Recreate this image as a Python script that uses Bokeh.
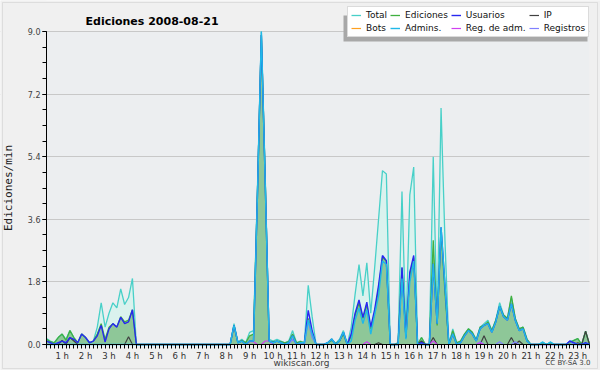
from bokeh.plotting import figure
from bokeh.models import (Range1d, FixedTicker, NumeralTickFormatter, Legend, LegendItem,
                          Label, BoxAnnotation)
from bokeh.embed import file_html
from bokeh.resources import INLINE

# ---- data: edits per minute, 10-minute samples starting at 00:20 ----
start_minute = 20
step_minutes = 10

total = [
    0.17, 0.10, 0.05, 0.20, 0.30, 0.15,
    0.40, 0.20, 0.05, 0.30, 0.20, 0.05,
    0.10, 0.50, 1.20, 0.50, 0.90, 1.20,
    1.05, 1.60, 1.15, 1.35, 1.90, 0.00,
    0.00, 0.00, 0.00, 0.00, 0.00, 0.00,
    0.00, 0.00, 0.00, 0.00, 0.00, 0.00,
    0.00, 0.00, 0.00, 0.00, 0.00, 0.00,
    0.00, 0.00, 0.00, 0.00, 0.00, 0.00,
    0.60, 0.07, 0.15, 0.05, 0.35, 0.40,
    4.50, 9.00, 4.80, 0.15, 0.10, 0.15,
    0.10, 0.05, 0.10, 0.40, 0.05, 0.10,
    0.05, 1.70, 0.80, 0.00, 0.00, 0.00,
    0.05, 0.17, 0.03, 0.15, 0.40, 0.00,
    0.50, 1.45, 2.30, 1.40, 2.35, 0.90,
    2.20, 3.60, 5.00, 4.90, 0.00, 0.00,
    0.05, 4.40, 0.30, 4.30, 5.10, 0.00,
    0.20, 0.00, 0.00, 5.40, 0.60, 6.80,
    3.00, 0.00, 0.45, 0.05, 0.10, 0.30,
    0.45, 0.35, 0.15, 0.50, 0.60, 0.70,
    0.40, 0.70, 1.20, 0.85, 0.75, 1.35,
    0.75, 0.45, 0.50, 0.15, 0.00, 0.00,
    0.00, 0.07, 0.00, 0.07, 0.00, 0.00,
    0.00, 0.00, 0.10, 0.12, 0.17, 0.00,
    0.38, 0.00,
]

ediciones = [
    0.15, 0.08, 0.05, 0.20, 0.30, 0.12,
    0.40, 0.20, 0.05, 0.30, 0.20, 0.05,
    0.10, 0.30, 0.60, 0.15, 0.50, 0.60,
    0.50, 0.80, 0.65, 0.70, 1.00, 0.00,
    0.00, 0.00, 0.00, 0.00, 0.00, 0.00,
    0.00, 0.00, 0.00, 0.00, 0.00, 0.00,
    0.00, 0.00, 0.00, 0.00, 0.00, 0.00,
    0.00, 0.00, 0.00, 0.00, 0.00, 0.00,
    0.55, 0.05, 0.12, 0.05, 0.25, 0.30,
    4.40, 8.90, 4.70, 0.10, 0.08, 0.10,
    0.08, 0.05, 0.08, 0.30, 0.05, 0.08,
    0.05, 0.75, 0.35, 0.00, 0.00, 0.00,
    0.05, 0.12, 0.03, 0.10, 0.30, 0.00,
    0.25, 0.85, 1.20, 0.75, 1.15, 0.45,
    0.90, 1.60, 2.50, 2.40, 0.00, 0.00,
    0.05, 2.20, 0.20, 2.00, 2.50, 0.00,
    0.20, 0.00, 0.00, 3.00, 0.55, 3.30,
    1.50, 0.00, 0.40, 0.05, 0.10, 0.30,
    0.45, 0.35, 0.12, 0.50, 0.55, 0.65,
    0.40, 0.70, 1.10, 0.85, 0.75, 1.40,
    0.75, 0.45, 0.50, 0.15, 0.00, 0.00,
    0.00, 0.05, 0.00, 0.05, 0.00, 0.00,
    0.00, 0.00, 0.05, 0.12, 0.17, 0.00,
    0.38, 0.00,
]

usuarios = [
    0.10, 0.05, 0.00, 0.05, 0.10, 0.05,
    0.20, 0.15, 0.05, 0.30, 0.20, 0.05,
    0.10, 0.25, 0.55, 0.07, 0.45, 0.60,
    0.50, 0.78, 0.60, 0.65, 1.00, 0.00,
    0.00, 0.00, 0.00, 0.00, 0.00, 0.00,
    0.00, 0.00, 0.00, 0.00, 0.00, 0.00,
    0.00, 0.00, 0.00, 0.00, 0.00, 0.00,
    0.00, 0.00, 0.00, 0.00, 0.00, 0.00,
    0.55, 0.05, 0.10, 0.00, 0.10, 0.10,
    4.30, 8.90, 4.60, 0.10, 0.05, 0.10,
    0.05, 0.00, 0.05, 0.25, 0.00, 0.05,
    0.05, 0.98, 0.40, 0.00, 0.00, 0.00,
    0.05, 0.15, 0.00, 0.10, 0.35, 0.00,
    0.30, 0.90, 1.28, 0.78, 1.22, 0.50,
    1.00, 1.70, 2.56, 2.41, 0.00, 0.00,
    0.00, 2.22, 0.20, 2.08, 2.56, 0.00,
    0.05, 0.00, 0.00, 2.32, 0.60, 3.37,
    1.70, 0.00, 0.30, 0.00, 0.05, 0.25,
    0.40, 0.30, 0.10, 0.45, 0.55, 0.60,
    0.35, 0.65, 1.10, 0.80, 0.70, 1.17,
    0.70, 0.40, 0.45, 0.10, 0.00, 0.00,
    0.00, 0.00, 0.00, 0.00, 0.00, 0.00,
    0.00, 0.00, 0.10, 0.05, 0.00, 0.00,
    0.05, 0.00,
]

ip = [
    0.00, 0.00, 0.00, 0.00, 0.12, 0.00,
    0.20, 0.10, 0.00, 0.00, 0.00, 0.00,
    0.00, 0.00, 0.00, 0.00, 0.00, 0.00,
    0.00, 0.00, 0.00, 0.22, 0.00, 0.00,
    0.00, 0.00, 0.00, 0.00, 0.00, 0.00,
    0.00, 0.00, 0.00, 0.00, 0.00, 0.00,
    0.00, 0.00, 0.00, 0.00, 0.00, 0.00,
    0.00, 0.00, 0.00, 0.00, 0.00, 0.00,
    0.00, 0.00, 0.00, 0.00, 0.00, 0.00,
    0.00, 0.00, 0.00, 0.00, 0.00, 0.00,
    0.00, 0.00, 0.00, 0.00, 0.00, 0.00,
    0.00, 0.00, 0.00, 0.00, 0.00, 0.00,
    0.00, 0.00, 0.00, 0.00, 0.00, 0.00,
    0.00, 0.00, 0.00, 0.00, 0.00, 0.00,
    0.00, 0.05, 0.00, 0.00, 0.00, 0.00,
    0.00, 0.00, 0.00, 0.00, 0.00, 0.00,
    0.10, 0.00, 0.00, 0.20, 0.00, 0.00,
    0.00, 0.00, 0.00, 0.00, 0.00, 0.00,
    0.00, 0.00, 0.00, 0.00, 0.25, 0.00,
    0.00, 0.00, 0.00, 0.00, 0.00, 0.20,
    0.00, 0.10, 0.00, 0.00, 0.00, 0.00,
    0.00, 0.00, 0.00, 0.00, 0.00, 0.00,
    0.00, 0.00, 0.00, 0.00, 0.05, 0.00,
    0.38, 0.00,
]

bots = [
    0.00, 0.00, 0.00, 0.00, 0.00, 0.00,
    0.00, 0.00, 0.00, 0.00, 0.00, 0.00,
    0.00, 0.00, 0.00, 0.00, 0.00, 0.00,
    0.00, 0.00, 0.00, 0.00, 0.00, 0.00,
    0.00, 0.00, 0.00, 0.00, 0.00, 0.00,
    0.00, 0.00, 0.00, 0.00, 0.00, 0.00,
    0.00, 0.00, 0.00, 0.00, 0.00, 0.00,
    0.00, 0.00, 0.00, 0.00, 0.00, 0.00,
    0.00, 0.00, 0.00, 0.00, 0.00, 0.00,
    0.00, 0.00, 0.00, 0.00, 0.00, 0.00,
    0.00, 0.00, 0.00, 0.00, 0.00, 0.00,
    0.00, 0.00, 0.00, 0.00, 0.00, 0.00,
    0.00, 0.00, 0.00, 0.00, 0.00, 0.00,
    0.00, 0.00, 0.00, 0.00, 0.00, 0.00,
    0.00, 0.00, 0.00, 0.00, 0.00, 0.00,
    0.00, 0.00, 0.00, 0.00, 0.00, 0.00,
    0.00, 0.00, 0.00, 0.00, 0.00, 0.00,
    0.00, 0.00, 0.00, 0.00, 0.00, 0.00,
    0.00, 0.00, 0.00, 0.00, 0.00, 0.00,
    0.00, 0.00, 0.00, 0.00, 0.00, 0.00,
    0.00, 0.00, 0.00, 0.00, 0.00, 0.00,
    0.00, 0.00, 0.00, 0.00, 0.00, 0.00,
    0.00, 0.00, 0.00, 0.00, 0.00, 0.00,
    0.00, 0.00,
]

admins = [
    0.00, 0.00, 0.00, 0.00, 0.00, 0.00,
    0.00, 0.00, 0.00, 0.00, 0.00, 0.00,
    0.00, 0.00, 0.00, 0.00, 0.00, 0.00,
    0.00, 0.00, 0.00, 0.00, 0.00, 0.00,
    0.00, 0.00, 0.00, 0.00, 0.00, 0.00,
    0.00, 0.00, 0.00, 0.00, 0.00, 0.00,
    0.00, 0.00, 0.00, 0.00, 0.00, 0.00,
    0.00, 0.00, 0.00, 0.00, 0.00, 0.00,
    0.55, 0.05, 0.10, 0.00, 0.10, 0.10,
    4.30, 9.00, 4.60, 0.10, 0.05, 0.10,
    0.05, 0.00, 0.05, 0.25, 0.00, 0.05,
    0.05, 0.70, 0.30, 0.00, 0.00, 0.00,
    0.05, 0.15, 0.00, 0.10, 0.35, 0.00,
    0.10, 0.70, 1.05, 0.60, 1.00, 0.30,
    0.85, 1.40, 2.40, 2.30, 0.00, 0.00,
    0.00, 1.90, 0.15, 1.80, 2.40, 0.00,
    0.00, 0.00, 0.00, 2.32, 0.60, 3.37,
    1.70, 0.00, 0.30, 0.00, 0.05, 0.25,
    0.40, 0.30, 0.10, 0.45, 0.55, 0.60,
    0.35, 0.65, 1.10, 0.80, 0.70, 1.17,
    0.70, 0.40, 0.45, 0.10, 0.00, 0.00,
    0.00, 0.07, 0.00, 0.07, 0.00, 0.00,
    0.00, 0.00, 0.00, 0.00, 0.00, 0.00,
    0.00, 0.00,
]

reg_adm = [
    0.00, 0.00, 0.00, 0.00, 0.00, 0.00,
    0.00, 0.00, 0.00, 0.00, 0.00, 0.00,
    0.00, 0.00, 0.00, 0.00, 0.00, 0.00,
    0.00, 0.00, 0.00, 0.00, 0.00, 0.00,
    0.00, 0.00, 0.00, 0.00, 0.00, 0.00,
    0.00, 0.00, 0.00, 0.00, 0.00, 0.00,
    0.00, 0.00, 0.00, 0.00, 0.00, 0.00,
    0.00, 0.00, 0.00, 0.00, 0.00, 0.00,
    0.00, 0.00, 0.00, 0.00, 0.08, 0.08,
    0.00, 0.00, 0.10, 0.10, 0.00, 0.00,
    0.00, 0.00, 0.00, 0.00, 0.00, 0.00,
    0.00, 0.00, 0.00, 0.00, 0.00, 0.00,
    0.00, 0.00, 0.00, 0.00, 0.00, 0.00,
    0.00, 0.00, 0.00, 0.00, 0.08, 0.00,
    0.00, 0.00, 0.00, 0.00, 0.00, 0.00,
    0.00, 0.00, 0.00, 0.00, 0.00, 0.00,
    0.00, 0.00, 0.00, 0.10, 0.00, 0.00,
    0.00, 0.00, 0.00, 0.00, 0.00, 0.00,
    0.00, 0.00, 0.00, 0.05, 0.00, 0.00,
    0.00, 0.00, 0.00, 0.00, 0.00, 0.00,
    0.00, 0.00, 0.00, 0.00, 0.00, 0.00,
    0.00, 0.00, 0.00, 0.00, 0.00, 0.00,
    0.00, 0.00, 0.00, 0.00, 0.00, 0.00,
    0.00, 0.00,
]

registros = [
    0.00, 0.00, 0.00, 0.00, 0.00, 0.00,
    0.00, 0.00, 0.00, 0.00, 0.00, 0.00,
    0.00, 0.00, 0.00, 0.00, 0.00, 0.00,
    0.00, 0.00, 0.00, 0.00, 0.00, 0.00,
    0.00, 0.00, 0.00, 0.00, 0.00, 0.00,
    0.00, 0.00, 0.00, 0.00, 0.00, 0.00,
    0.00, 0.00, 0.00, 0.00, 0.00, 0.00,
    0.00, 0.00, 0.00, 0.00, 0.00, 0.00,
    0.00, 0.00, 0.00, 0.00, 0.00, 0.00,
    0.00, 0.00, 0.00, 0.00, 0.00, 0.00,
    0.00, 0.00, 0.00, 0.15, 0.00, 0.00,
    0.00, 0.65, 0.20, 0.00, 0.00, 0.00,
    0.00, 0.00, 0.00, 0.00, 0.00, 0.00,
    0.00, 0.00, 0.00, 0.00, 0.00, 0.00,
    0.00, 0.00, 0.00, 0.00, 0.00, 0.00,
    0.00, 0.00, 0.00, 0.00, 0.00, 0.00,
    0.00, 0.00, 0.00, 0.00, 0.00, 0.00,
    0.00, 0.00, 0.00, 0.00, 0.00, 0.00,
    0.00, 0.00, 0.00, 0.08, 0.00, 0.00,
    0.00, 0.00, 0.08, 0.00, 0.00, 0.00,
    0.08, 0.00, 0.00, 0.00, 0.00, 0.00,
    0.00, 0.00, 0.00, 0.00, 0.00, 0.00,
    0.00, 0.00, 0.10, 0.00, 0.00, 0.00,
    0.00, 0.00,
]

hour_labels = [f"{h} h" for h in range(1, 24)]
y_ticks = [0.0, 1.8, 3.6, 5.4, 7.2, 9.0]
y_max = 9.0

# x in hours
hours = [(start_minute + step_minutes * i) / 60 for i in range(len(total))]
x0, x1 = hours[0], hours[-1]

# ---- layout (pixels): plot area inside a full-canvas frame ----
W, H = 600, 370
PL, PR, PT, PB = 46, 589, 31, 344          # plot area edges in canvas pixels
kx = (PR - PL) / (x1 - x0)
ky = (PB - PT) / y_max
x_range = Range1d(x0 - PL / kx, x1 + (W - PR) / kx)
y_range = Range1d(-(H - PB) / ky, y_max + PT / ky)

def sy(canvas_y):
    """canvas y (from top) -> screen units used by annotations (from bottom)"""
    return H - canvas_y

p = figure(width=W, height=H, output_backend="svg", toolbar_location=None,
           title=None, x_range=x_range, y_range=y_range,
           min_border=0, min_border_left=0, min_border_right=0,
           min_border_top=0, min_border_bottom=0,
           background_fill_color="#F0F0F0", border_fill_color="#F0F0F0",
           outline_line_color=None)

# plot-area background
p.add_layout(BoxAnnotation(left=x0, right=x1, bottom=0, top=y_max,
                           fill_color="#ECEEF0", fill_alpha=1, line_color=None, level="image"))

# grid (only inside plot area)
p.xgrid.visible = False
p.ygrid.grid_line_color = "#C8C8C8"
p.ygrid.grid_line_width = 1
p.add_layout(BoxAnnotation(right=x0, fill_color="#F0F0F0", fill_alpha=1,
                           line_color=None, level="underlay"))
p.add_layout(BoxAnnotation(left=x1, fill_color="#F0F0F0", fill_alpha=1,
                           line_color=None, level="underlay"))

# outer border
p.add_layout(BoxAnnotation(left=2, right=597, top=sy(2), bottom=sy(368),
                           left_units="screen", right_units="screen",
                           top_units="screen", bottom_units="screen",
                           fill_alpha=0, line_color="#B4B4B4", line_width=1, level="underlay"))

# fills
p.varea(x=hours, y1=0, y2=total, fill_color="#DAF2EE", fill_alpha=1)
p.varea(x=hours, y1=0, y2=ediciones, fill_color="#8EC798", fill_alpha=1)

r_total = p.line(hours, total, line_color="#48D0C8", line_width=1.3)
r_ed = p.line(hours, ediciones, line_color="#40B040", line_width=1.3)
r_ip = p.line(hours, ip, line_color="#404040", line_width=1.2)
r_bots = p.line(hours, bots, line_color="#FFA020", line_width=1.2)
r_regs = p.line(hours, registros, line_color="#8080FF", line_width=1.2)
r_radm = p.line(hours, reg_adm, line_color="#D040F0", line_width=1.2)
r_us = p.line(hours, usuarios, line_color="#2828F0", line_width=1.4)
r_adm = p.line(hours, admins, line_color="#20B8E8", line_width=1.4)

# axes, fixed inside the frame at the plot-area edges
xa = p.xaxis[0]
xa.fixed_location = 0
xa.bounds = (x0, x1)
xa.ticker = FixedTicker(ticks=list(range(1, 24)), minor_ticks=hours)
xa.major_label_overrides = {h: lab for h, lab in zip(range(1, 24), hour_labels)}
xa.major_tick_out = 0
xa.major_tick_in = 0
xa.minor_tick_out = 4
xa.minor_tick_in = 0
xa.major_label_standoff = 2
xa.major_label_text_font = "DejaVu Sans"
xa.major_label_text_font_size = "8.5px"
xa.major_label_text_color = "#303030"
xa.axis_line_color = "black"
xa.minor_tick_line_color = "black"

ya = p.yaxis[0]
ya.fixed_location = x0
ya.bounds = (0, y_max)
ya.ticker = FixedTicker(ticks=y_ticks, minor_ticks=[0.45 * k for k in range(0, 21)])
ya.formatter = NumeralTickFormatter(format="0.0")
ya.major_tick_out = 4
ya.major_tick_in = 0
ya.minor_tick_out = 4
ya.minor_tick_in = 0
ya.major_label_standoff = 2
ya.major_label_text_font = "DejaVu Sans"
ya.major_label_text_font_size = "8px"
ya.major_label_text_color = "#404040"
ya.axis_label = "Ediciones/min"
ya.axis_label_text_font = "DejaVu Sans Mono"
ya.axis_label_text_font_size = "11px"
ya.axis_label_text_font_style = "normal"
ya.axis_label_text_color = "#202020"
ya.axis_label_standoff = 10
ya.axis_line_color = "black"

# legend shadow + legend
p.add_layout(BoxAnnotation(left=343, right=587, top=sy(15), bottom=sy(41),
                           left_units="screen", right_units="screen",
                           top_units="screen", bottom_units="screen",
                           fill_color="#A8A8A8", fill_alpha=1, line_color=None))

legend = Legend(items=[
    LegendItem(label="Total", renderers=[r_total]),
    LegendItem(label="Ediciones", renderers=[r_ed]),
    LegendItem(label="Usuarios", renderers=[r_us]),
    LegendItem(label="IP", renderers=[r_ip]),
    LegendItem(label="Bots", renderers=[r_bots]),
    LegendItem(label="Admins.", renderers=[r_adm]),
    LegendItem(label="Reg. de adm.", renderers=[r_radm]),
    LegendItem(label="Registros", renderers=[r_regs]),
], orientation="horizontal", ncols=4, location=(347, sy(37)))
legend.border_line_color = "#B8B8B8"
legend.background_fill_color = "white"
legend.background_fill_alpha = 1
legend.label_text_font = "DejaVu Sans"
legend.label_text_font_size = "9px"
legend.label_text_color = "#101010"
legend.label_height = 10
legend.glyph_height = 10
legend.glyph_width = 10
legend.label_standoff = 5
legend.spacing = 3
legend.padding = 3
legend.margin = 0
p.add_layout(legend)

# texts
p.add_layout(Label(x=85, y=sy(21), x_units="screen", y_units="screen",
                   text="Ediciones  2008-08-21", text_font="DejaVu Sans",
                   text_font_size="11px", text_font_style="bold", text_color="#000000",
                   text_align="left", text_baseline="alphabetic"))
p.add_layout(Label(x=301, y=sy(362), x_units="screen", y_units="screen",
                   text="wikiscan.org", text_font="DejaVu Sans", text_font_size="9px",
                   text_color="#404040", text_align="center", text_baseline="middle"))
p.add_layout(Label(x=590, y=sy(362), x_units="screen", y_units="screen",
                   text="CC BY-SA 3.0", text_font="DejaVu Sans", text_font_size="7px",
                   text_color="#404040", text_align="right", text_baseline="middle"))

open("out.html", "w").write(file_html(p, INLINE))
